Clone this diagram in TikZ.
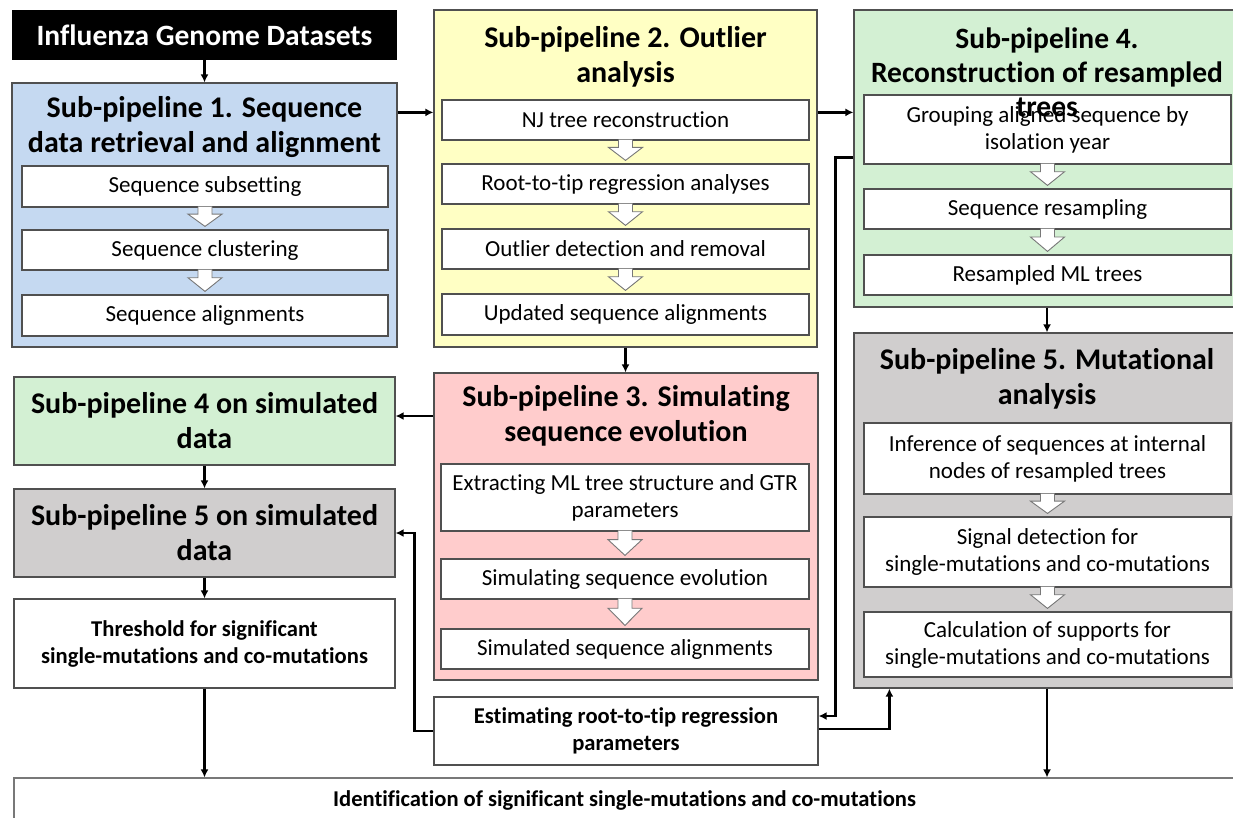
\documentclass[tikz,border=0pt]{standalone}
\usepackage{fontspec}
\setmainfont{Carlito}[Ligatures=NoCommon]
\usetikzlibrary{arrows.meta,calc}
\definecolor{cblue}{RGB}{197,217,241}
\definecolor{cyellow}{RGB}{255,255,196}
\definecolor{cgreen}{RGB}{211,240,211}
\definecolor{cpink}{RGB}{255,204,204}
\definecolor{cgray}{RGB}{208,206,206}
\definecolor{cborder}{RGB}{80,80,80}
\definecolor{carrow}{RGB}{120,120,120}
\newcommand\blockarr[2]{%
  \coordinate (ba1) at ([yshift=1pt]#1.south);
  \coordinate (ba2) at ($(#1.south)!0.3!(#2.north)$);
  \coordinate (ba3) at ($(#2.north)+(0,-3)$);
  \path[barrow] ([xshift=-7pt]ba1) -- ([xshift=-7pt]ba2) -- ([xshift=-17pt]ba2) -- (ba1 |- ba3) -- ([xshift=17pt]ba2) -- ([xshift=7pt]ba2) -- ([xshift=7pt]ba1);}
\begin{document}
\begin{tikzpicture}[x=1pt,y=-1pt,
  cont/.style={draw=cborder,line width=1.2pt,inner sep=0pt},
  sub/.style={draw=cborder,fill=white,line width=1.2pt,inner sep=0pt,align=center,
    font=\fontsize{23}{27}\selectfont},
  ttl/.style={inner sep=0pt,align=center,font=\bfseries\fontsize{30}{35}\selectfont},
  btxt/.style={inner sep=0pt,align=center,font=\bfseries\fontsize{22.6}{27}\selectfont},
  conn/.style={line width=2.2pt,-{Latex[length=8pt,width=8pt]}},
  barrow/.style={draw=carrow,fill=white,line width=0.9pt,line join=miter}]
\useasboundingbox (0,0) rectangle (1233,817);
\fill[white] (0,0) rectangle (1233,817);

% ---- data box
\node[fill=black,inner sep=0pt,minimum width=385pt,minimum height=50pt,
  text=white,font=\bfseries\fontsize{29.5}{35}\selectfont] (data) at (204.5,35) {Influenza Genome Datasets};

% ---- SP1
\node[cont,fill=cblue,minimum width=385pt,minimum height=264pt] (sp1) at (204.5,215) {};
\node[ttl] (t1) at (204.5,127) {Sub-pipeline 1. Sequence\\data retrieval and alignment};
\node[sub,minimum width=366pt,minimum height=41pt] (s11) at (205,186.5) {Sequence subsetting};
\node[sub,minimum width=366pt,minimum height=40pt] (s12) at (205,250) {Sequence clustering};
\node[sub,minimum width=366pt,minimum height=41pt] (s13) at (205,315.5) {Sequence alignments};
\blockarr{s11}{s12}
\blockarr{s12}{s13}

% ---- SP2
\node[cont,fill=cyellow,minimum width=383pt,minimum height=337pt] (sp2) at (625.5,178.5) {};
\node[ttl] (t2) at (625.5,57) {Sub-pipeline 2. Outlier\\analysis};
\node[sub,minimum width=367pt,minimum height=40pt] (s21) at (625.5,120) {NJ tree reconstruction};
\node[sub,minimum width=367pt,minimum height=40pt] (s22) at (625.5,184) {Root-to-tip regression analyses};
\node[sub,minimum width=367pt,minimum height=40pt] (s23) at (625.5,249) {Outlier detection and removal};
\node[sub,minimum width=367pt,minimum height=41pt] (s24) at (625.5,314.5) {Updated sequence alignments};
\blockarr{s21}{s22}
\blockarr{s22}{s23}
\blockarr{s23}{s24}

% ---- SP4
\node[cont,fill=cgreen,minimum width=386pt,minimum height=297pt] (sp4) at (1047,158.5) {};
\node[sub,minimum width=367pt,minimum height=69pt] (s41) at (1047.5,129.5) {Grouping aligned sequence by\\isolation year};
\node[sub,minimum width=367pt,minimum height=40pt] (s42) at (1047.5,209) {Sequence resampling};
\node[sub,minimum width=367pt,minimum height=40pt] (s43) at (1047.5,275) {Resampled ML trees};
\node[ttl,font=\bfseries\fontsize{29.5}{34}\selectfont] (t4) at (1047,72) {Sub-pipeline 4.\\Reconstruction of resampled\\trees};
\blockarr{s41}{s42}
\blockarr{s42}{s43}

% ---- SP5
\node[cont,fill=cgray,minimum width=386pt,minimum height=355pt] (sp5) at (1047,510.5) {};
\node[ttl] (t5) at (1047,379) {Sub-pipeline 5. Mutational\\analysis};
\node[sub,minimum width=367pt,minimum height=71pt] (s51) at (1047.5,458.5) {Inference of sequences at internal\\nodes of resampled trees};
\node[sub,minimum width=367pt,minimum height=70pt] (s52) at (1047.5,552) {Signal detection for\\single-mutations and co-mutations};
\node[sub,minimum width=367pt,minimum height=65pt] (s53) at (1047.5,644.5) {Calculation of supports for\\single-mutations and co-mutations};
\blockarr{s51}{s52}
\blockarr{s52}{s53}

% ---- SP3
\node[cont,fill=cpink,minimum width=384pt,minimum height=307pt] (sp3) at (626,526.5) {};
\node[ttl] (t3) at (626,416) {Sub-pipeline 3. Simulating\\sequence evolution};
\node[sub,minimum width=368pt,minimum height=67pt] (s31) at (625,497.5) {Extracting ML tree structure and GTR\\parameters};
\node[sub,minimum width=368pt,minimum height=40pt] (s32) at (625,579) {Simulating sequence evolution};
\node[sub,minimum width=368pt,minimum height=40pt] (s33) at (625,649) {Simulated sequence alignments};
\blockarr{s31}{s32}
\blockarr{s32}{s33}

% ---- left column
\node[cont,fill=cgreen,minimum width=381pt,minimum height=88pt,ttl] (sp4s) at (204.5,421) {Sub-pipeline 4 on simulated\\data};
\node[cont,fill=cgray,minimum width=381pt,minimum height=88pt,ttl] (sp5s) at (204.5,533) {Sub-pipeline 5 on simulated\\data};
\node[cont,fill=white,minimum width=381pt,minimum height=89pt,btxt] (thr) at (204.5,643.5) {Threshold for significant\\single-mutations and co-mutations};

% ---- estimating & bottom
\node[cont,fill=white,minimum width=384pt,minimum height=68pt,btxt] (est) at (626,731) {Estimating root-to-tip regression\\parameters};
\node[cont,draw=carrow,fill=white,minimum width=1221pt,minimum height=44pt,btxt] (bot) at (624.5,800) {Identification of significant single-mutations and co-mutations};

% ---- connectors
\draw[conn] (data.south) -- (sp1.north);
\coordinate (c12) at ([yshift=-103pt]sp2.north west);
\draw[conn] (sp1.east |- c12) -- (c12);
\coordinate (c24) at ([yshift=-103pt]sp4.north west);
\draw[conn] (sp2.east |- c24) -- (c24);
\draw[conn] (sp2.south) -- (sp3.north -| sp2.south);
\draw[conn] (sp4.south) -- (sp5.north);
\coordinate (c34) at ([yshift=5pt]sp4s.east);
\draw[conn] (sp3.west |- c34) -- (c34);
\draw[conn] (sp4s.south) -- (sp5s.north);
\draw[conn] (sp5s.south) -- (thr.north);
\draw[conn] (thr.south) -- (thr.south |- bot.north);
\draw[conn] (sp5.south) -- (sp5.south |- bot.north);
\draw[conn] (est.west) -- ++(-19,0) |- (sp5s.east);
\draw[conn] ([yshift=-148pt]sp4.north west) -- ++(-18,0) |- ([yshift=15pt]est.east);
\draw[conn] ([yshift=2pt]est.east) -| ([xshift=36pt]sp5.south west);
\end{tikzpicture}
\end{document}
